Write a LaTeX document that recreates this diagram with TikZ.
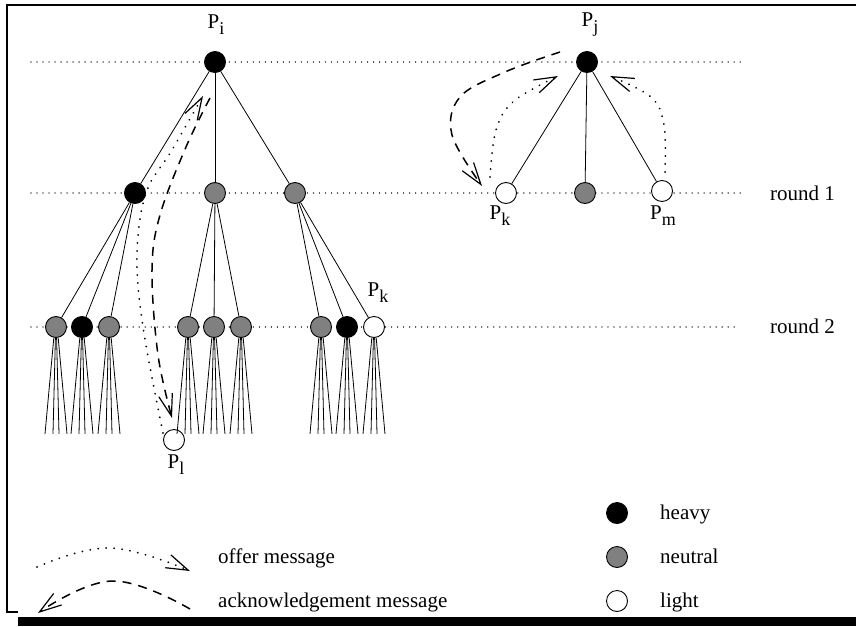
\documentclass[tikz,border=0pt]{standalone}
\usepackage{fontspec}
\setmainfont{Liberation Serif}
\usetikzlibrary{arrows.meta}
\definecolor{midgray}{gray}{0.5}
\newcommand{\psub}[1]{P\raisebox{-6pt}{\fontsize{18}{18}\selectfont #1}}
\begin{document}
\begin{tikzpicture}[x=1pt,y=-1pt,
  proc/.style={circle,draw,line width=0.9pt,minimum size=21pt,inner sep=0pt},
  heavy/.style={proc,fill=black},
  neutral/.style={proc,fill=midgray},
  light/.style={proc,fill=white},
  edge/.style={line width=0.8pt},
  guide/.style={line width=1.4pt,line cap=round,dash pattern=on 0.01pt off 6pt,color=black!75},
  offer/.style={line width=2pt,line cap=round,dash pattern=on 0.01pt off 8pt,
    -{Straight Barb[length=22pt,width=14pt,line width=1.2pt,line cap=butt]}},
  ack/.style={line width=1.5pt,dash pattern=on 9pt off 7pt,
    -{Straight Barb[length=22pt,width=14pt,line width=1.2pt]}},
  txt/.style={font=\fontsize{21}{25}\selectfont,inner sep=0pt}
]
\useasboundingbox (0,0) rectangle (856,626);

% frame with shadow
\draw[line width=2.2pt] (7,612) -- (7,5) -- (856,5);
\draw[line width=2pt] (6,612) -- (18,612);
\fill (18,617) rectangle (856,626);

% round guide lines
\coordinate (g0a) at (31,62);  \coordinate (g0b) at (745,62);
\coordinate (g1a) at (31,193); \coordinate (g1b) at (742,193);
\coordinate (g2a) at (31,327); \coordinate (g2b) at (738,327);
\draw[guide] (g0a) -- (g0b);
\draw[guide] (g1a) -- (g1b);
\draw[guide] (g2a) -- (g2b);

% left tree
\node[heavy]   (pi) at (215,62) {};
\node[heavy]   (a1) at (135,193) {};
\node[neutral] (a2) at (215,193) {};
\node[neutral] (a3) at (295,193) {};
\node[neutral] (b1) at (56,327) {};
\node[heavy]   (b2) at (82,327) {};
\node[neutral] (b3) at (109,327) {};
\node[neutral] (b4) at (188,327) {};
\node[neutral] (b5) at (214,327) {};
\node[neutral] (b6) at (241,327) {};
\node[neutral] (b7) at (321,327) {};
\node[heavy]   (b8) at (347,327) {};
\node[light]   (b9) at (374,327) {};
\node[light]   (pl) at (174,440) {};

\foreach \c in {a1,a2,a3} \draw[edge] (pi) -- (\c);
\foreach \c in {b1,b2,b3} \draw[edge] (a1) -- (\c);
\foreach \c in {b4,b5,b6} \draw[edge] (a2) -- (\c);
\foreach \c in {b7,b8,b9} \draw[edge] (a3) -- (\c);
\foreach \n in {b1,b2,b3,b4,b5,b6,b7,b8,b9}
  \foreach \d in {-11,-3,3,11}
    \draw[edge] ([xshift=0.2*\d pt]\n.south) -- ([xshift=\d pt,yshift=-96pt]\n.south);

% right tree
\node[heavy]   (pj) at (587,62) {};
\node[light]   (c1) at (506,193) {};
\node[neutral] (c2) at (585,193) {};
\node[light]   (c3) at (662,191) {};
\foreach \c in {c1,c2,c3} \draw[edge] (pj) -- (\c);

% labels
\node[txt] (lpi) at (216,25) {\psub{i}};
\node[txt] (lpj) at (590,25) {\psub{j}};
\node[txt] (lpk1) at (500,216) {\psub{k}};
\node[txt] (lpm) at (663,216) {\psub{m}};
\node[txt] (lpk2) at (378,293) {\psub{k}};
\node[txt] (lpl) at (176,465) {\psub{l}};
\node[txt,anchor=west] (r1) at (770,193) {round 1};
\node[txt,anchor=west] (r2) at (770,326) {round 2};

% messages (left)
\draw[offer] plot[smooth,tension=0.6] coordinates {(163,433) (143,327) (137,255) (146,193) (172,150) (203,96)};
\draw[ack] plot[smooth,tension=0.6] coordinates {(210,98) (186,147) (160,215) (152,270) (158,355) (172,418)};

% messages (right)
\draw[offer] plot[smooth,tension=0.6] coordinates {(490,177) (496,130) (514,101) (558,76)};
\draw[offer] plot[smooth,tension=0.6] coordinates {(665,172) (664,125) (651,97) (610,76)};
\draw[ack] plot[smooth,tension=0.6] coordinates {(560,52) (505,72) (460,97) (452,135) (482,186)};

% legend
\draw[offer] plot[smooth,tension=0.7] coordinates {(37,567) (110,548) (190,571)};
\draw[ack] plot[smooth,tension=0.7] coordinates {(190,609) (112,581) (38,613)};
\node[txt,anchor=base west] (toffer) at (218,563) {offer message};
\node[txt,anchor=base west] (tack) at (218,607) {acknowledgement message};

\node[heavy]   (kh) at (617,513) {};
\node[neutral] (kn) at (617,557) {};
\node[light]   (kl) at (617,601) {};
\node[txt,anchor=base west] (th) at (660,519) {heavy};
\node[txt,anchor=base west] (tn) at (660,563) {neutral};
\node[txt,anchor=base west] (tl) at (660,607) {light};
\end{tikzpicture}
\end{document}
